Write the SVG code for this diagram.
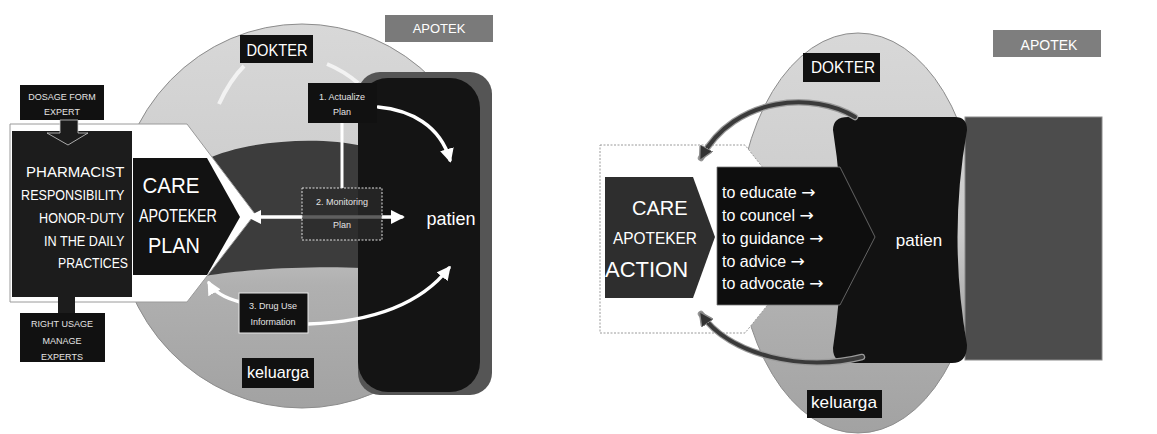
<svg xmlns="http://www.w3.org/2000/svg" width="1157" height="434" viewBox="0 0 1157 434">
  <style>
    .lbl { font-family: "Liberation Sans", Arial, sans-serif; fill: #ffffff; }
    .small { font-family: "Liberation Sans", Arial, sans-serif; fill: #e4e4e4; font-size: 9px; text-anchor: middle; }
    .act { font-family: "Liberation Sans", Arial, sans-serif; fill: #ffffff; font-size: 16px; }
    .arr { font-family: "DejaVu Sans", sans-serif; font-size: 17px; }
    .box { fill: #111111; }
    .wline { fill: none; stroke: #ffffff; stroke-width: 3.5; stroke-linecap: round; }
    .dline { fill: none; stroke: #3a3a3a; stroke-width: 4; stroke-linecap: round; }
    .dline-o { fill: none; stroke: #9a9a9a; stroke-width: 6.5; stroke-linecap: round; }
  </style>
  <defs>
    <linearGradient id="ovalShade" x1="0" y1="0" x2="0" y2="1">
      <stop offset="0" stop-color="#d8d8d8"/>
      <stop offset="0.5" stop-color="#cbcbcb"/>
      <stop offset="0.68" stop-color="#b0b0b0"/>
      <stop offset="1" stop-color="#a2a2a2"/>
    </linearGradient>
    <marker id="wHead" viewBox="0 0 10 10" refX="8" refY="5" markerWidth="4" markerHeight="4" orient="auto-start-reverse">
      <path d="M0,0 L10,5 L0,10 Z" fill="#ffffff"/>
    </marker>
    <marker id="dHead" viewBox="0 0 10 10" refX="8" refY="5" markerWidth="3.6" markerHeight="3.6" orient="auto">
      <path d="M0,0 L10,5 L0,10 Z" fill="#333333" stroke="#8a8a8a" stroke-width="1"/>
    </marker>
  </defs>

  <rect width="1157" height="434" fill="#ffffff"/>

  <!-- ===================== left panel: care plan ===================== -->
  <g id="left-panel">
    <g id="l-oval">
      <ellipse cx="302" cy="216" rx="186" ry="192" fill="url(#ovalShade)" stroke="#8c8c8c" stroke-width="1"/>
      <!-- dark band between plan and patient -->
      <path d="M205,160 C245,140 320,136 362,146 L362,268 C320,266 250,268 205,276 Z" fill="#3c3c3c"/>
    </g>

    <g id="l-apotek">
      <rect x="385" y="15" width="108" height="27" fill="#7a7a7a"/>
      <text class="lbl" x="439" y="33" font-size="13" text-anchor="middle">APOTEK</text>
    </g>

    <g id="l-patien">
      <rect x="358" y="72" width="134" height="323" rx="22" fill="#555555"/>
      <rect x="358" y="78" width="122" height="314" rx="30" fill="#141414"/>
      <text class="lbl" x="451" y="225" font-size="18" text-anchor="middle">patien</text>
    </g>

    <g id="l-dokter">
      <rect x="240" y="35" width="73" height="28" class="box"/>
      <text class="lbl" x="277" y="56" font-size="16" text-anchor="middle" textLength="61" lengthAdjust="spacingAndGlyphs">DOKTER</text>
    </g>

    <g id="l-keluarga">
      <rect x="242" y="358" width="72" height="30" class="box"/>
      <text class="lbl" x="278" y="378" font-size="17" text-anchor="middle" textLength="62" lengthAdjust="spacingAndGlyphs">keluarga</text>
    </g>

    <!-- white chevron behind the responsibility column -->
    <path id="l-chevron" d="M10,124 L187,124 L255,214 L187,302 L10,302 Z" fill="#ffffff" stroke="#9a9a9a" stroke-width="1"/>

    <g id="l-pharmacist">
      <rect x="12" y="131" width="120" height="166" fill="#1c1c1c"/>
      <text class="lbl" font-size="14" text-anchor="end">
        <tspan x="128" y="177" textLength="98" lengthAdjust="spacingAndGlyphs">PHARMACIST</tspan>
        <tspan x="128" y="200" textLength="103" lengthAdjust="spacingAndGlyphs">RESPONSIBILITY</tspan>
        <tspan x="128" y="223" textLength="85" lengthAdjust="spacingAndGlyphs">HONOR-DUTY</tspan>
        <tspan x="128" y="246" textLength="80" lengthAdjust="spacingAndGlyphs">IN THE DAILY</tspan>
        <tspan x="128" y="268" textLength="70" lengthAdjust="spacingAndGlyphs">PRACTICES</tspan>
      </text>
    </g>

    <g id="l-dosage">
      <rect x="20" y="85" width="84" height="35" class="box"/>
      <text class="small"><tspan x="62" y="100">DOSAGE FORM</tspan><tspan x="62" y="115">EXPERT</tspan></text>
      <path d="M60,120 L78,120 L78,133 L88,133 L68,145 L47,133 L60,133 Z" fill="#1c1c1c" stroke="#cfcfcf" stroke-width="0.8"/>
    </g>

    <g id="l-usage">
      <rect x="58" y="296" width="17" height="18" fill="#1c1c1c"/>
      <rect x="20" y="313" width="85" height="49" class="box"/>
      <text class="small" font-size="10"><tspan x="62" y="327">RIGHT USAGE</tspan><tspan x="62" y="344">MANAGE</tspan><tspan x="62" y="360">EXPERTS</tspan></text>
    </g>

    <g id="l-care">
      <path d="M133,158 L207,158 L240,217 L207,275 L133,275 Z" fill="#121212"/>
      <text class="lbl" font-size="22" text-anchor="middle">
        <tspan x="174" y="193" textLength="57" lengthAdjust="spacingAndGlyphs">CARE</tspan>
        <tspan x="181" y="222" font-size="18" textLength="78" lengthAdjust="spacingAndGlyphs">APOTEKER</tspan>
        <tspan x="174" y="253" textLength="52" lengthAdjust="spacingAndGlyphs">PLAN</tspan>
      </text>
    </g>

    <g id="l-connectors">
      <!-- faint ring around the doctor -->
      <path d="M219,104 Q230,80 244,66" fill="none" stroke="#ffffff" stroke-opacity="0.7" stroke-width="4"/>
      <path d="M327,64 Q344,71 358,83" fill="none" stroke="#ffffff" stroke-opacity="0.7" stroke-width="4"/>
      <!-- actualize to monitoring -->
      <line x1="342" y1="123" x2="342" y2="188" stroke="#ffffff" stroke-width="3"/>
      <!-- actualize to patient -->
      <path class="wline" d="M378,107 C410,110 440,125 450,160" marker-end="url(#wHead)"/>
      <!-- monitoring both ways -->
      <line class="wline" x1="250" y1="217" x2="402" y2="217" marker-start="url(#wHead)" marker-end="url(#wHead)"/>
      <!-- drug use information to patient and back to plan -->
      <path class="wline" d="M308,324 C370,322 420,305 449,268" marker-end="url(#wHead)"/>
      <path class="wline" d="M240,302 C225,298 214,292 209,283" marker-end="url(#wHead)"/>
    </g>

    <g id="l-actualize">
      <rect x="308" y="83" width="69" height="40" class="box"/>
      <text class="small"><tspan x="342" y="100">1. Actualize</tspan><tspan x="342" y="115">Plan</tspan></text>
    </g>

    <g id="l-monitoring">
      <rect x="302" y="188" width="80" height="52" fill="#2a2a2a" fill-opacity="0.75" stroke="#e0e0e0" stroke-width="1" stroke-dasharray="2 1.5"/>
      <text class="small"><tspan x="342" y="205">2. Monitoring</tspan><tspan x="342" y="228">Plan</tspan></text>
    </g>

    <g id="l-druguse">
      <rect x="239" y="293" width="69" height="40" class="box" stroke="#e8e8e8" stroke-width="1"/>
      <text class="small"><tspan x="273" y="309">3. Drug Use</tspan><tspan x="273" y="325">Information</tspan></text>
    </g>
  </g>

  <!-- ===================== right panel: care action ===================== -->
  <g id="right-panel">
    <g id="r-oval">
      <ellipse cx="858" cy="233" rx="121" ry="200" fill="url(#ovalShade)" stroke="#8c8c8c" stroke-width="1"/>
    </g>

    <g id="r-apotek">
      <rect x="993" y="30" width="108" height="27" fill="#7e7e7e"/>
      <text class="lbl" x="1049" y="50" font-size="14" text-anchor="middle">APOTEK</text>
    </g>

    <g id="r-dokter">
      <rect x="803" y="53" width="77" height="29" class="box"/>
      <text class="lbl" x="843" y="73" font-size="16" text-anchor="middle" textLength="64" lengthAdjust="spacingAndGlyphs">DOKTER</text>
    </g>

    <g id="r-keluarga">
      <rect x="807" y="390" width="75" height="28" class="box"/>
      <text class="lbl" x="844" y="408" font-size="17" text-anchor="middle" textLength="66" lengthAdjust="spacingAndGlyphs">keluarga</text>
    </g>

    <g id="r-setting">
      <rect x="965" y="117" width="137" height="243" fill="#4c4c4c" stroke="#8a8a8a" stroke-width="1"/>
    </g>

    <g id="r-patien">
      <path d="M848,117 L955,117 Q967,117 967,130 Q948,237 967,345 Q967,363 952,363 L848,363 Q833,363 833,348 Q850,237 833,130 Q833,117 848,117 Z" fill="#121212"/>
      <text class="lbl" x="919" y="246" font-size="17" text-anchor="middle">patien</text>
    </g>

    <path id="r-chevron" d="M600,145 L745,145 L820,240 L745,333 L600,333 Z" fill="#ffffff" stroke="#9a9a9a" stroke-width="1" stroke-dasharray="2 1.5"/>

    <g id="r-care">
      <path d="M605,177 L693,177 L715,237 L693,298 L605,298 Z" fill="#2e2e2e"/>
      <text class="lbl" x="632" y="215" font-size="20">CARE</text>
      <text class="lbl" x="613" y="244" font-size="17" textLength="84" lengthAdjust="spacingAndGlyphs">APOTEKER</text>
      <text class="lbl" x="605" y="277" font-size="22">ACTION</text>
    </g>

    <g id="r-actions">
      <path d="M717,167 L840,167 L875,237 L840,305 L717,305 Z" fill="#0e0e0e" stroke="#7a7a7a" stroke-width="0.8"/>
      <text class="act" x="722" y="198">to educate <tspan class="arr">→</tspan></text>
      <text class="act" x="722" y="221">to councel <tspan class="arr">→</tspan></text>
      <text class="act" x="722" y="244">to guidance <tspan class="arr">→</tspan></text>
      <text class="act" x="722" y="267">to advice <tspan class="arr">→</tspan></text>
      <text class="act" x="722" y="289">to advocate <tspan class="arr">→</tspan></text>
    </g>

    <g id="r-connectors">
      <path class="dline-o" d="M855,117 C815,92 735,95 701,158"/>
      <path class="dline" d="M855,117 C815,92 735,95 701,158" marker-end="url(#dHead)"/>
      <path class="dline-o" d="M862,357 C805,372 730,356 701,314"/>
      <path class="dline" d="M862,357 C805,372 730,356 701,314" marker-end="url(#dHead)"/>
    </g>
  </g>
</svg>
